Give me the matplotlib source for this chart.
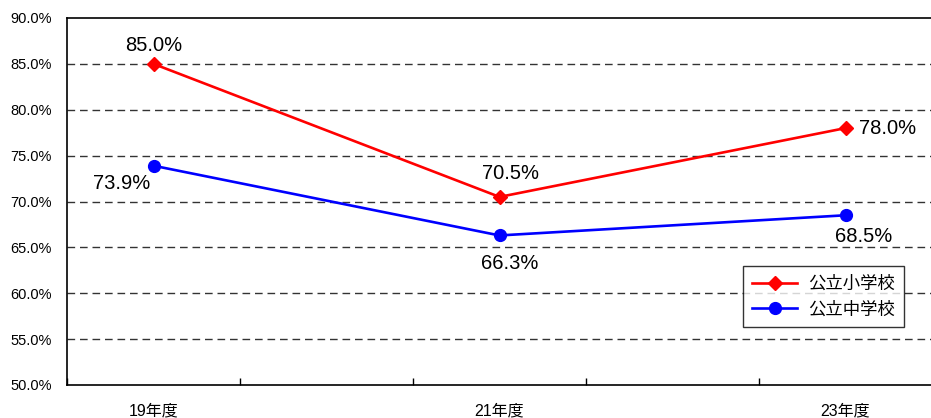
import numpy as np
import matplotlib.pyplot as plt
from matplotlib.ticker import FuncFormatter

plt.rcParams['font.family'] = ['Liberation Sans', 'Noto Sans CJK JP', 'DejaVu Sans']

# data
categories = ['19年度', '20年度', '21年度', '22年度', '23年度']
cat_labels = ['19年度', '', '21年度', '', '23年度']
years_idx = [0, 2, 4]
elementary = [85.0, 70.5, 78.0]
junior_high = [73.9, 66.3, 68.5]
series_names = ['公立小学校', '公立中学校']

# label offsets (points)
elem_off = [(0, 13), (8, 17), (30, 0)]
jhs_off = [(-23, -13), (7, -20), (13, -15)]

fig = plt.figure(figsize=(9.31, 4.18), dpi=100)
ax = fig.add_axes([67 / 931, 1 - 385 / 418, 865 / 931, 367 / 418])

x = np.array(years_idx)
ax.plot(x, elementary, color='#ff0000', lw=1.9, marker='D', ms=7.5,
        label=series_names[0], zorder=3)
ax.plot(x, junior_high, color='#0000ff', lw=1.9, marker='o', ms=8.5,
        label=series_names[1], zorder=3)

for xi, v, off in zip(x, elementary, elem_off):
    ax.annotate(f'{v:.1f}%', (xi, v), xytext=off, textcoords='offset points',
                ha='center', va='center', fontsize=14.5)
for xi, v, off in zip(x, junior_high, jhs_off):
    ax.annotate(f'{v:.1f}%', (xi, v), xytext=off, textcoords='offset points',
                ha='center', va='center', fontsize=14.5)

ax.set_xlim(-0.5, len(categories) - 0.5)
ax.set_ylim(50, 90)
ax.set_yticks(np.arange(50, 91, 5))
ax.yaxis.set_major_formatter(FuncFormatter(lambda v, p: f'{v:.1f}%'))
ax.tick_params(axis='y', length=0, pad=11, labelsize=10.5)

ax.set_xticks(np.arange(len(categories)))
ax.set_xticklabels(cat_labels, fontsize=11.5)
ax.tick_params(axis='x', which='major', length=0, pad=13)
ax.set_xticks(np.arange(len(categories) + 1) - 0.5, minor=True)
ax.tick_params(axis='x', which='minor', direction='in', length=5, width=1)

for g in np.arange(55, 90, 5):
    ax.axhline(g, color='#333333', lw=1, ls=(0, (5.5, 3.5)), zorder=1)

for s in ['left', 'bottom', 'top']:
    ax.spines[s].set_color('black')
    ax.spines[s].set_linewidth(1.2)
ax.spines['right'].set_visible(False)

leg = ax.legend(loc='lower right', bbox_to_anchor=(0.968, 0.158),
                borderaxespad=0, fontsize=12.5, frameon=True, fancybox=False,
                edgecolor='black', borderpad=0.55, handlelength=2.6,
                handletextpad=0.6, labelspacing=0.55)
leg.get_frame().set_linewidth(1)

fig.savefig('out.png', dpi=100)
